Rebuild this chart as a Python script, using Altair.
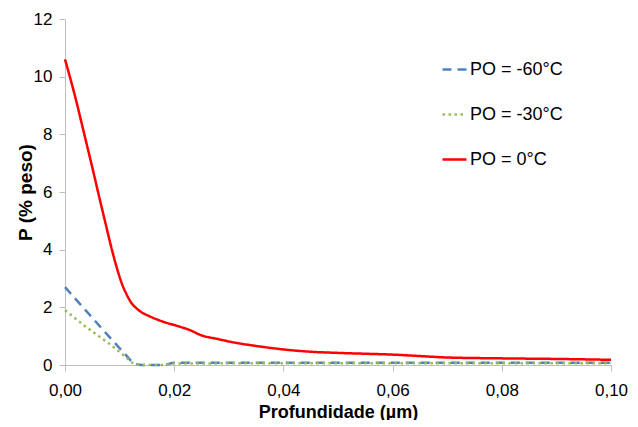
import altair as alt
import pandas as pd

series_names = ["PO = -60°C", "PO = -30°C", "PO = 0°C"]
colors = ["#4F81BD", "#9BBB59", "#FF0000"]

x_red = [0, 0.0018, 0.0035, 0.0050, 0.0064, 0.0075, 0.0086, 0.0096, 0.0104, 0.0112, 0.0120,
         0.0135, 0.0156, 0.018, 0.021, 0.023, 0.0247, 0.028, 0.031, 0.035, 0.040, 0.045,
         0.050, 0.055, 0.060, 0.065, 0.070, 0.080, 0.090, 0.100]
y_red = [10.6, 9.35, 8.03, 6.85, 5.72, 4.85, 3.99, 3.3, 2.83, 2.48, 2.2,
         1.9, 1.68, 1.5, 1.33, 1.2, 1.05, 0.9, 0.78, 0.66, 0.54, 0.46,
         0.42, 0.39, 0.36, 0.31, 0.26, 0.23, 0.21, 0.18]

x_blue = [0, 0.004, 0.008, 0.011, 0.0125, 0.014, 0.018, 0.020, 0.040, 0.060, 0.080, 0.100]
y_blue = [2.7, 1.85, 1.0, 0.38, 0.08, 0.0, 0.0, 0.08, 0.08, 0.08, 0.08, 0.08]

x_green = [0, 0.004, 0.008, 0.011, 0.0125, 0.014, 0.018, 0.020, 0.040, 0.060, 0.080, 0.100]
y_green = [1.9, 1.3, 0.75, 0.3, 0.06, 0.0, 0.0, 0.05, 0.06, 0.06, 0.06, 0.06]

rows = []
for name, xs, ys in [(series_names[0], x_blue, y_blue),
                     (series_names[1], x_green, y_green),
                     (series_names[2], x_red, y_red)]:
    for i, (a, b) in enumerate(zip(xs, ys)):
        rows.append({"x": a, "y": b, "serie": name, "o": i})
df = pd.DataFrame(rows)

font = "Liberation Sans"

chart = alt.Chart(df).mark_line(interpolate="monotone", strokeWidth=2.5).encode(
    x=alt.X("x:Q", title="Profundidade (µm)",
            scale=alt.Scale(domain=[0, 0.1], nice=False),
            axis=alt.Axis(values=[0, 0.02, 0.04, 0.06, 0.08, 0.1],
                          labelExpr="replace(format(datum.value, '.2f'), '.', ',')",
                          grid=False, tickSize=6, labelPadding=11, titlePadding=5,
                          labelFlush=False, titleFontSize=18)),
    y=alt.Y("y:Q", title="P (% peso)",
            scale=alt.Scale(domain=[0, 12], nice=False),
            axis=alt.Axis(values=[0, 2, 4, 6, 8, 10, 12], grid=False, tickSize=6,
                          labelPadding=7, titlePadding=-2, titleFontSize=19)),
    color=alt.Color("serie:N", scale=alt.Scale(domain=series_names, range=colors),
                    legend=alt.Legend(title=None, orient="none", legendX=376, legendY=37,
                                      symbolType="stroke", symbolSize=576,
                                      symbolStrokeWidth=2.5, rowPadding=22,
                                      labelFontSize=18, labelFont=font, labelColor="#000",
                                      labelOffset=2)),
    strokeDash=alt.StrokeDash("serie:N",
                              scale=alt.Scale(domain=series_names,
                                              range=[[9, 6], [2.5, 3.5], [1, 0]]),
                              legend=None),
    order="o:Q",
).properties(
    width=546, height=346,
    autosize=alt.AutoSizeParams(type="none"),
    padding={"left": 57, "top": 11, "right": 19, "bottom": 55},
    background="white",
).configure_view(stroke=None).configure_axis(
    domainColor="#BFBFBF", tickColor="#BFBFBF", labelFont=font, titleFont=font,
    labelFontSize=17, labelColor="#000", titleColor="#000",
    titleFontWeight="bold", labelFontWeight="normal",
)

chart.save("out.html", embed_options={"renderer": "svg", "actions": False})
